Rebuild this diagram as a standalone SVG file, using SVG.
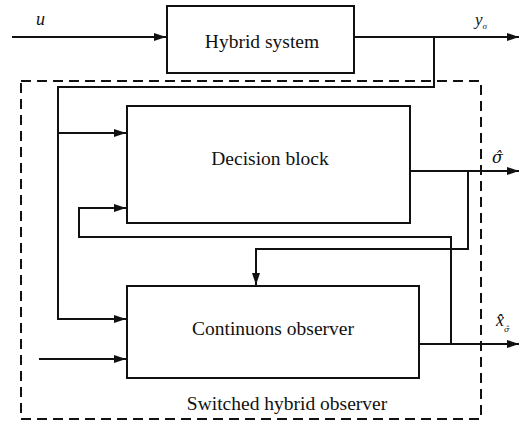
<svg xmlns="http://www.w3.org/2000/svg" width="528" height="423" viewBox="0 0 528 423">
<style>
.box{fill:#fff;stroke:#111;stroke-width:2}
.ln{fill:none;stroke:#111;stroke-width:2}
.dash{fill:none;stroke:#111;stroke-width:2;stroke-dasharray:10 6}
.t{font-family:"Liberation Serif","Times New Roman",serif;font-size:19.5px;fill:#111;text-anchor:middle}
.m{font-family:"Liberation Serif","DejaVu Serif","Times New Roman",serif;font-style:italic;fill:#111}
.g{font-family:"DejaVu Serif","Liberation Serif",serif}
</style>
<defs>
<marker id="ah" markerWidth="12" markerHeight="8" refX="12" refY="4" orient="auto" markerUnits="userSpaceOnUse">
<path d="M0,0 L12,4 L0,8 Z" fill="#111"/>
</marker>
</defs>
<rect width="528" height="423" fill="#fff"/>
<g id="observer-frame">
<rect class="dash" x="21" y="81" width="460" height="338"/>
<text class="t" x="287" y="410">Switched hybrid observer</text>
</g>
<g id="connectors">
<path class="ln" d="M12,37 H166" marker-end="url(#ah)"/>
<path class="ln" d="M354,37 H519" marker-end="url(#ah)"/>
<path class="ln" d="M434,37 V87 H58 V319 H126" marker-end="url(#ah)"/>
<path class="ln" d="M58,133 H126" marker-end="url(#ah)"/>
<path class="ln" d="M410,171 H519" marker-end="url(#ah)"/>
<path class="ln" d="M468,171 V249 H256 V285" marker-end="url(#ah)"/>
<path class="ln" d="M419,344 H519" marker-end="url(#ah)"/>
<path class="ln" d="M451,344 V237 H79 V208 H126" marker-end="url(#ah)"/>
<path class="ln" d="M39,359 H126" marker-end="url(#ah)"/>
</g>
<g id="hybrid-system">
<rect class="box" x="167" y="6" width="187" height="67"/>
<text class="t" x="262" y="48">Hybrid system</text>
</g>
<g id="decision-block">
<rect class="box" x="127" y="106" width="283" height="117"/>
<text class="t" x="270" y="165">Decision block</text>
</g>
<g id="continuous-observer">
<rect class="box" x="127" y="286" width="292" height="92"/>
<text class="t" x="273" y="335">Continuons observer</text>
</g>
<g id="labels">
<text class="m" x="36" y="25" font-size="18">u</text>
<text class="m" x="475" y="25" font-size="17">y<tspan font-size="9" dy="4">σ</tspan></text>
<text class="m g" x="492" y="163" font-size="16">σ̂</text>
<text class="m" x="496" y="326" font-size="18">x̂<tspan class="g" font-size="8" dy="6">σ̂</tspan></text>
</g>
</svg>
